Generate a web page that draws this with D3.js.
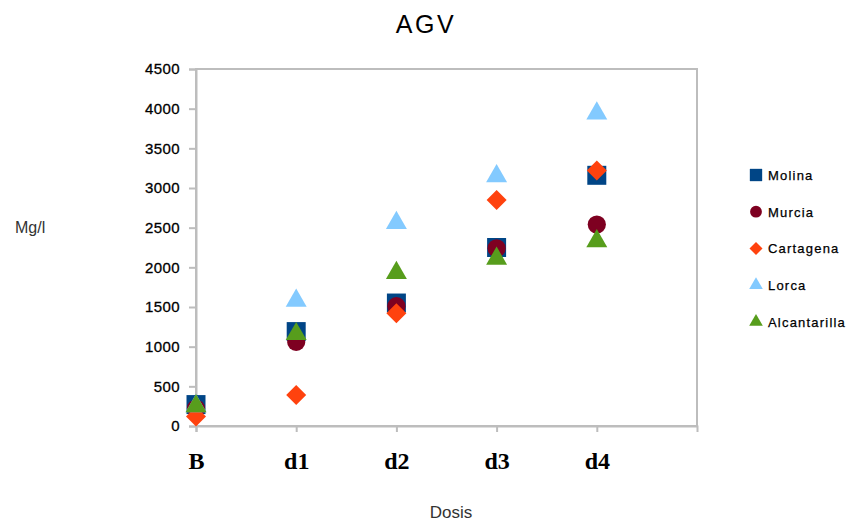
<!DOCTYPE html>
<html>
<head>
<meta charset="utf-8">
<script src="https://cdn.jsdelivr.net/npm/d3@7"></script>
<style>
  html, body { margin: 0; padding: 0; background: #fff; }
  svg { display: block; }
</style>
</head>
<body>
<svg id="chart" width="857" height="522"></svg>
<script>
// AGV by dose for each site
const categories = ["B", "d1", "d2", "d3", "d4"];
const seriesNames = ["Molina", "Murcia", "Cartagena", "Lorca", "Alcantarilla"];
const molina = [270, 1190, 1550, 2250, 3160];
const murcia = [220, 1060, 1510, 2240, 2540];
const cartagena = [120, 390, 1420, 2850, 3220];
const lorca = [250, 1580, 2560, 3150, 3940];
const alcantarilla = [250, 1160, 1930, 2110, 2330];
const yTicks = [0, 500, 1000, 1500, 2000, 2500, 3000, 3500, 4000, 4500];

const seriesValues = [molina, murcia, cartagena, lorca, alcantarilla];
const colors = ["#004586", "#7e0021", "#ff420e", "#83caff", "#579d1c"];
const shapes = ["square", "circle", "diamond", "triangle", "triangle"];

const svg = d3.select("#chart");
const plotLeft = 196, plotRight = 697, plotTop = 69, plotBottom = 426;

const x = d3.scaleLinear().domain([0, 5]).range([plotLeft, plotRight]);
const y = d3.scaleLinear().domain([0, 4500]).range([plotBottom, plotTop]);

const axisColor = "#bdbdbd";

// plot frame
svg.append("rect")
  .attr("x", plotLeft).attr("y", plotTop)
  .attr("width", plotRight - plotLeft).attr("height", plotBottom - plotTop)
  .attr("fill", "none").attr("stroke", axisColor).attr("stroke-width", 2);

// y axis
const yAxis = svg.append("g")
  .attr("transform", `translate(${plotLeft},0)`)
  .call(d3.axisLeft(y).tickValues(yTicks).tickSize(7).tickPadding(9).tickFormat(d3.format("d")));
yAxis.select(".domain").attr("stroke", axisColor).attr("stroke-width", 2);
yAxis.selectAll(".tick line").attr("stroke", axisColor).attr("stroke-width", 2);
yAxis.selectAll(".tick text")
  .attr("font-family", "Liberation Sans, Arial, sans-serif")
  .attr("font-size", 15)
  .attr("letter-spacing", "0.4px")
  .attr("stroke", "#000").attr("stroke-width", 0.3)
  .attr("fill", "#000");

// x axis
const xAxis = svg.append("g")
  .attr("transform", `translate(0,${plotBottom})`)
  .call(d3.axisBottom(x).tickValues(d3.range(categories.length)).tickSize(6)
    .tickPadding(20).tickFormat(i => categories[i]));
xAxis.select(".domain").attr("stroke", axisColor).attr("stroke-width", 2);
xAxis.selectAll(".tick line").attr("stroke", axisColor).attr("stroke-width", 2);
xAxis.selectAll(".tick text")
  .attr("font-family", "Liberation Serif, Times New Roman, serif")
  .attr("font-weight", "bold")
  .attr("font-size", 24)
  .attr("fill", "#000");

// marker generator
function markerPath(shape, scale) {
  let sym, size;
  if (shape === "square") { sym = d3.symbolSquare; size = 361; }
  else if (shape === "circle") { sym = d3.symbolCircle; size = 260; }
  else if (shape === "diamond") { sym = d3.symbolSquare; size = 200; }
  else { sym = d3.symbolTriangle; size = 190; }
  return d3.symbol().type(sym).size(size * scale * scale)();
}
function markerRotate(shape) { return shape === "diamond" ? 45 : 0; }

// points
seriesValues.forEach((vals, s) => {
  svg.append("g").selectAll("path")
    .data(vals)
    .join("path")
    .attr("d", markerPath(shapes[s], 1))
    .attr("transform", (d, i) => `translate(${x(i)},${y(d)}) rotate(${markerRotate(shapes[s])})`)
    .attr("fill", colors[s]);
});

// title and axis titles
svg.append("text")
  .attr("x", 426).attr("y", 33)
  .attr("text-anchor", "middle")
  .attr("font-family", "Liberation Sans, Arial, sans-serif")
  .attr("font-size", 25)
  .attr("letter-spacing", "2.5px")
  .attr("fill", "#000")
  .text("AGV");

svg.append("text")
  .attr("x", 15).attr("y", 233)
  .attr("font-family", "Liberation Sans, Arial, sans-serif")
  .attr("font-size", 16)
  .attr("fill", "#333")
  .text("Mg/l");

svg.append("text")
  .attr("x", 451).attr("y", 518)
  .attr("text-anchor", "middle")
  .attr("font-family", "Liberation Sans, Arial, sans-serif")
  .attr("font-size", 17)
  .attr("fill", "#333")
  .text("Dosis");

// legend
const legend = svg.append("g").attr("transform", "translate(756,175)");
seriesNames.forEach((name, s) => {
  const row = legend.append("g").attr("transform", `translate(0,${s * 36.7})`);
  row.append("path")
    .attr("d", markerPath(shapes[s], 0.65))
    .attr("transform", `rotate(${markerRotate(shapes[s])})`)
    .attr("fill", colors[s]);
  row.append("text")
    .attr("x", 12).attr("y", 5)
    .attr("font-family", "Liberation Sans, Arial, sans-serif")
    .attr("font-size", 13)
    .attr("letter-spacing", "1.2px")
    .attr("stroke", "#000").attr("stroke-width", 0.25)
    .attr("fill", "#000")
    .text(name);
});
</script>
</body>
</html>
